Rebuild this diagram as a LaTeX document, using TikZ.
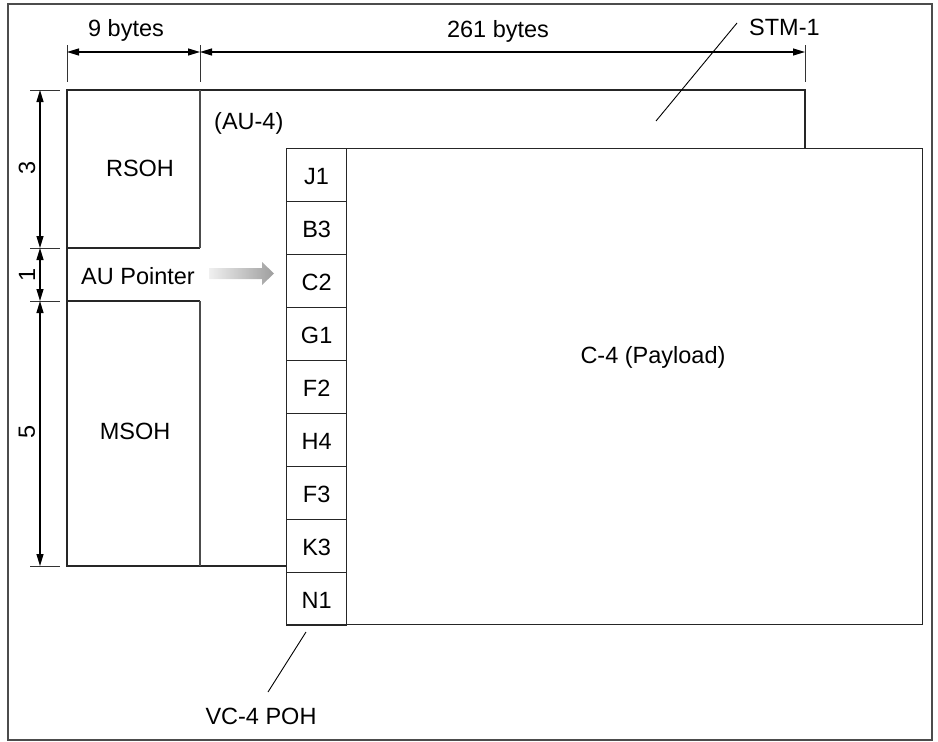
\documentclass[tikz,border=0pt]{standalone}
\usepackage{fontspec}
\setmainfont{Liberation Sans}
\usetikzlibrary{arrows.meta,calc}
\begin{document}
\begin{tikzpicture}[x=1pt,y=-1pt,
  every node/.style={font=\fontsize{23.5}{26}\selectfont, inner sep=0pt},
  line/.style={line width=1.3pt, black!85},
  dim/.style={line width=1.1pt, black, {Triangle[length=12pt,width=7pt]}-{Triangle[length=12pt,width=7pt]}},
  ext/.style={line width=1pt, black!80},
  cell/.style={draw=black!85, line width=1.3pt, minimum width=60pt, minimum height=53pt, anchor=north west},
  leader/.style={line width=0.9pt, black}]
\useasboundingbox (0,0) rectangle (938,742);
\draw[line width=1.6pt, black!70] (8,4) rectangle (932,740);
% STM-1 frame
\draw[line] (286,566) -- (67,566) -- (67,90) -- (805,90) -- (805,148);
\draw[line] (67,248) -- (200,248);
\draw[line] (67,301) -- (200,301);
\draw[line width=1.1pt, black!70] (200,90) -- (200,248);
\draw[line width=1.1pt, black!70] (200,301) -- (200,566);
% texts
\node (rsoh) at (140,168) {RSOH};
\node (aup) at (138,276) {AU Pointer};
\node (msoh) at (135,431) {MSOH};
\node[anchor=west] (au4) at (214,123) {(AU-4)};
% payload
\node[draw=black!85, line width=1.3pt, minimum width=636pt, minimum height=476pt, anchor=north west] (pl) at (286,148) {};
\node (c4) at (653,357) {C-4 (Payload)};
\foreach \t [count=\i from 0] in {J1,B3,C2,G1,F2,H4,F3,K3,N1}{
  \node[cell] (p\i) at (286,148+53*\i) {};
  \node at ($(p\i.center)+(0,1)$) {\t};
}
% gradient arrow
\shade[left color=black!6, right color=black!38, draw=none]
  (209,268) -- (262,268) -- (262,262) -- (274,273.5) -- (262,285) -- (262,279) -- (209,279) -- cycle;
% dimensions
\draw[ext] (67,45) -- (67,82);
\draw[ext] (200,45) -- (200,82);
\draw[ext] (805,45) -- (805,82);
\coordinate (h0) at (67,52);
\coordinate (h1) at (200,52);
\coordinate (h2) at (805,52);
\draw[dim] (h0) -- (h1);
\draw[dim] (h1) -- (h2);
\node (b9) at (126,30) {9 bytes};
\node (b261) at (498,31) {261 bytes};
\foreach \yy in {90,248,301,566}{ \draw[ext] (30,\yy) -- (60,\yy); }
\coordinate (v0) at (40,90);
\coordinate (v1) at (40,248);
\coordinate (v2) at (40,301);
\coordinate (v3) at (40,566);
\draw[dim] (v0) -- (v1);
\draw[dim] (v1) -- (v2);
\draw[dim] (v2) -- (v3);
\node[rotate=90] (d3) at (27,168) {3};
\node[rotate=90] (d1) at (27,275) {1};
\node[rotate=90] (d5) at (27,432) {5};
% leaders
\node[anchor=west] (stm) at (749,27) {STM-1};
\coordinate (s0) at (656,121);
\coordinate (s1) at (737,23);
\draw[leader] (s0) -- (s1);
\node (vc) at (261,716) {VC-4 POH};
\coordinate (q0) at (306,632);
\coordinate (q1) at (268,692);
\draw[leader] (q0) -- (q1);
\end{tikzpicture}
\end{document}
